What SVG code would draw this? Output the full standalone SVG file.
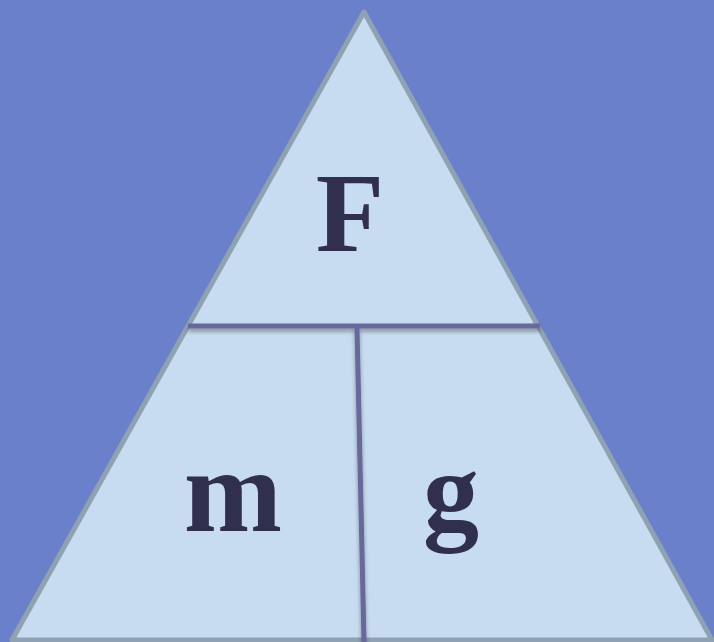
<svg xmlns="http://www.w3.org/2000/svg" width="714" height="642" viewBox="0 0 714 642">
<defs>
<style>
.lbl{font-family:'Liberation Serif','Times New Roman',serif;font-weight:700;fill:#30304e;text-anchor:middle}
.div{stroke:#67679b;stroke-width:5;fill:none;stroke-linecap:butt}
</style>
<filter id="sh" x="-5%" y="-50%" width="110%" height="300%">
<feGaussianBlur in="SourceAlpha" stdDeviation="2"/>
<feOffset dx="0" dy="3" result="b"/>
<feComponentTransfer><feFuncA type="linear" slope="0.35"/></feComponentTransfer>
<feMerge><feMergeNode/><feMergeNode in="SourceGraphic"/></feMerge>
</filter>
</defs>
<rect x="0" y="0" width="714" height="642" fill="#6a80ca"/>
<g id="triangle">
<polygon points="364,12 12,640 712,640" fill="#c7dcf0" stroke="#8fa2b4" stroke-width="5" stroke-linejoin="round"/>
</g>
<g id="connectors" filter="url(#sh)">
<line class="div" x1="188" y1="326" x2="540" y2="326"/>
<line class="div" x1="357" y1="328" x2="364" y2="642"/>
</g>
<g id="node-F"><text class="lbl" x="350" y="251" font-size="112">F</text></g>
<g id="node-m"><text class="lbl" x="233" y="531" font-size="118">m</text></g>
<g id="node-g"><text class="lbl" x="451" y="529" font-size="112">g</text></g>
</svg>
